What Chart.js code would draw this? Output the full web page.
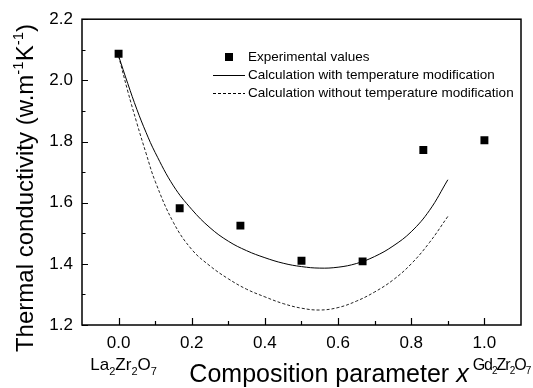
<!DOCTYPE html>
<html>
<head>
<meta charset="utf-8">
<script src="https://cdn.jsdelivr.net/npm/chart.js@4/dist/chart.umd.min.js"></script>
<style>
  html, body { margin: 0; padding: 0; background: #fff; }
  #wrap { width: 533px; height: 388px; position: relative; }
</style>
</head>
<body>
<div id="wrap"><canvas id="c" width="533" height="388"></canvas></div>
<script>
// ---- data ----
const expX = [0, 0.167, 0.333, 0.5, 0.667, 0.833, 1.0];
const expY = [2.087, 1.582, 1.525, 1.410, 1.408, 1.772, 1.804];

const calcX = [0, 0.025, 0.05, 0.075, 0.1, 0.15, 0.2, 0.25, 0.3, 0.35, 0.4, 0.45, 0.5, 0.55, 0.6, 0.65, 0.7, 0.75, 0.8, 0.85, 0.9];
const withTemp = [2.08, 1.99, 1.905, 1.83, 1.764, 1.655, 1.578, 1.518, 1.474, 1.443, 1.420, 1.402, 1.391, 1.386, 1.389, 1.401, 1.424, 1.458, 1.505, 1.575, 1.675];
const withoutTemp = [2.08, 1.965, 1.86, 1.762, 1.67, 1.535, 1.447, 1.393, 1.351, 1.317, 1.292, 1.27, 1.255, 1.249, 1.257, 1.278, 1.308, 1.347, 1.40, 1.47, 1.555];

const seriesLabels = ['Experimental values', 'Calculation with temperature modification', 'Calculation without temperature modification'];

const xMajorTicks = [0, 0.2, 0.4, 0.6, 0.8, 1.0];
const xMinorTicks = [0.1, 0.3, 0.5, 0.7, 0.9];
const yMajorTicks = [1.2, 1.4, 1.6, 1.8, 2.0, 2.2];
const yMinorTicks = [1.3, 1.5, 1.7, 1.9, 2.1];

const xTitle = 'Composition parameter ';
const xTitleVar = 'x';
const yTitleParts = [['Thermal conductivity (w.m', 0], ['-1', 1], ['K', 0], ['-1', 1], [')', 0]];
const leftEndLabel = [['La', 0], ['2', -1], ['Zr', 0], ['2', -1], ['O', 0], ['7', -1]];
const rightEndLabel = [['Gd', 0], ['2', -1], ['Zr', 0], ['2', -1], ['O', 0], ['7', -1]];

const FONT = '"Liberation Sans", Arial, Helvetica, sans-serif';

function toPts(xs, ys) { return xs.map((x, i) => ({ x: x, y: ys[i] })); }

function drawRich(ctx, parts, x, y, size, align) {
  // parts: [text, mode] mode 0 normal, 1 superscript, -1 subscript
  const widths = parts.map(([t, m]) => {
    ctx.font = (m === 0 ? size : Math.round(size * 0.62)) + 'px ' + FONT;
    return ctx.measureText(t).width;
  });
  const total = widths.reduce((a, b) => a + b, 0);
  let cx = align === 'center' ? x - total / 2 : x;
  parts.forEach(([t, m], i) => {
    ctx.font = (m === 0 ? size : Math.round(size * 0.62)) + 'px ' + FONT;
    const dy = m === 1 ? -size * 0.42 : (m === -1 ? size * 0.28 : 0);
    ctx.fillText(t, cx, y + dy);
    cx += widths[i];
  });
  return total;
}

const decor = {
  id: 'decor',
  afterDraw(chart) {
    const ctx = chart.ctx;
    const ca = chart.chartArea;
    const xs = chart.scales.x, ys = chart.scales.y;
    ctx.save();
    ctx.strokeStyle = '#000';
    ctx.fillStyle = '#000';
    // frame
    ctx.lineWidth = 1.5;
    ctx.strokeRect(ca.left, ca.top, ca.right - ca.left, ca.bottom - ca.top);
    // inward ticks
    ctx.lineWidth = 1.2;
    ctx.beginPath();
    yMajorTicks.forEach(v => { const p = Math.round(ys.getPixelForValue(v)) + 0.5; ctx.moveTo(ca.left, p); ctx.lineTo(ca.left + 6, p); });
    yMinorTicks.forEach(v => { const p = Math.round(ys.getPixelForValue(v)) + 0.5; ctx.moveTo(ca.left, p); ctx.lineTo(ca.left + 3.5, p); });
    xMajorTicks.forEach(v => { const p = Math.round(xs.getPixelForValue(v)) + 0.5; ctx.moveTo(p, ca.bottom); ctx.lineTo(p, ca.bottom - 7); });
    xMinorTicks.forEach(v => { const p = Math.round(xs.getPixelForValue(v)) + 0.5; ctx.moveTo(p, ca.bottom); ctx.lineTo(p, ca.bottom - 4); });
    ctx.stroke();

    // end-member labels under x ticks
    ctx.textBaseline = 'alphabetic';
    ctx.textAlign = 'left';
    drawRich(ctx, leftEndLabel, xs.getPixelForValue(0) + 5, 370, 17, 'center');
    ctx.save();
    ctx.letterSpacing = '-1px';
    drawRich(ctx, rightEndLabel, xs.getPixelForValue(1) + 17, 370, 16, 'center');
    ctx.restore();

    // x title
    const tSize = 25;
    ctx.font = tSize + 'px ' + FONT;
    const w1 = ctx.measureText(xTitle).width;
    ctx.font = 'italic ' + tSize + 'px ' + FONT;
    const w2 = ctx.measureText(xTitleVar).width;
    const startX = 329 - (w1 + w2) / 2;
    ctx.font = tSize + 'px ' + FONT;
    ctx.fillText(xTitle, startX, 382);
    ctx.font = 'italic ' + tSize + 'px ' + FONT;
    ctx.fillText(xTitleVar, startX + w1, 382);

    // y title (rotated)
    ctx.save();
    ctx.translate(33, 188);
    ctx.rotate(-Math.PI / 2);
    ctx.textBaseline = 'alphabetic';
    drawRich(ctx, yTitleParts, 0, 0, 24, 'center');
    ctx.restore();

    // legend
    const lx = 248;
    const rows = [57, 75, 93];
    ctx.font = '13.5px ' + FONT;
    ctx.textBaseline = 'middle';
    ctx.textAlign = 'left';
    ctx.fillRect(229 - 4, rows[0] - 4, 8, 8);
    ctx.fillText(seriesLabels[0], lx, rows[0] + 0.5);
    ctx.lineWidth = 1;
    ctx.beginPath(); ctx.moveTo(213, rows[1] + 0.5); ctx.lineTo(245, rows[1] + 0.5); ctx.stroke();
    ctx.fillText(seriesLabels[1], lx, rows[1] + 0.5);
    ctx.setLineDash([3, 2]);
    ctx.beginPath(); ctx.moveTo(213, rows[2] + 0.5); ctx.lineTo(245, rows[2] + 0.5); ctx.stroke();
    ctx.setLineDash([]);
    ctx.fillText(seriesLabels[2], lx, rows[2] + 0.5);
    ctx.restore();
  }
};

new Chart(document.getElementById('c'), {
  type: 'scatter',
  data: {
    datasets: [
      {
        label: seriesLabels[1],
        data: toPts(calcX, withTemp),
        showLine: true,
        borderColor: '#000',
        borderWidth: 1,
        pointRadius: 0,
        tension: 0.4,
        fill: false
      },
      {
        label: seriesLabels[2],
        data: toPts(calcX, withoutTemp),
        showLine: true,
        borderColor: '#222',
        borderWidth: 1,
        borderDash: [3, 2],
        pointRadius: 0,
        tension: 0.4,
        fill: false
      },
      {
        label: seriesLabels[0],
        data: toPts(expX, expY),
        showLine: false,
        pointStyle: 'rect',
        pointRadius: 5.6,
        pointHoverRadius: 5.6,
        backgroundColor: '#000',
        borderColor: '#000',
        borderWidth: 0
      }
    ]
  },
  options: {
    responsive: false,
    animation: false,
    events: [],
    layout: { padding: { top: 12, right: 12, left: 0, bottom: 0 } },
    plugins: {
      legend: { display: false },
      tooltip: { enabled: false },
      title: { display: false }
    },
    scales: {
      x: {
        type: 'linear',
        min: -0.1,
        max: 1.1,
        afterBuildTicks: s => { s.ticks = xMajorTicks.map(v => ({ value: v })); },
        afterFit: s => { s.height = 63; },
        grid: { display: false, drawTicks: false },
        border: { display: false },
        ticks: {
          color: '#000',
          font: { family: FONT, size: 17 },
          padding: 8,
          maxRotation: 0,
          autoSkip: false,
          callback: v => Number(v).toFixed(1)
        }
      },
      y: {
        type: 'linear',
        min: 1.2,
        max: 2.2,
        afterBuildTicks: s => { s.ticks = yMajorTicks.map(v => ({ value: v })); },
        afterFit: s => { s.width = 82; },
        grid: { display: false, drawTicks: false },
        border: { display: false },
        ticks: {
          color: '#000',
          font: { family: FONT, size: 17 },
          padding: 9,
          autoSkip: false,
          callback: v => Number(v).toFixed(1)
        }
      }
    }
  },
  plugins: [decor]
});
</script>
</body>
</html>
